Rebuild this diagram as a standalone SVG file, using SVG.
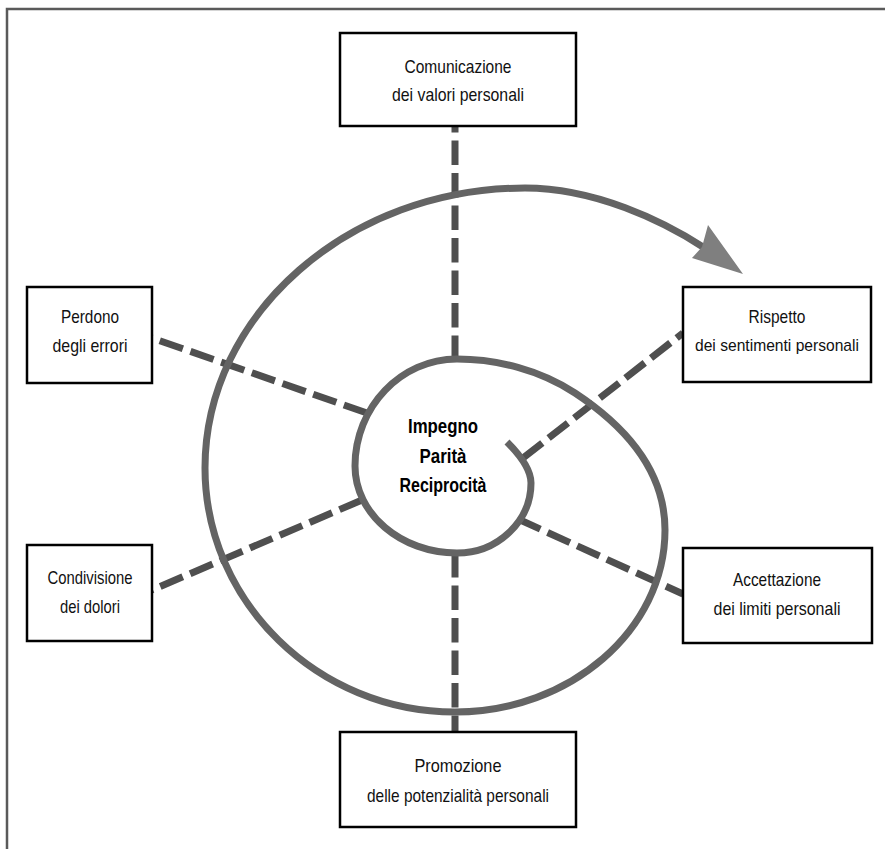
<svg xmlns="http://www.w3.org/2000/svg" width="885" height="849" viewBox="0 0 885 849">
<style>
.box{fill:#fff;stroke:#000;stroke-width:2.5}
.lbl{font-family:"Liberation Sans Narrow","Liberation Sans",Arial,sans-serif;font-size:19px;fill:#111;text-anchor:middle}
.ctr{font-family:"Liberation Sans Narrow","Liberation Sans",Arial,sans-serif;font-size:20px;font-weight:bold;fill:#000;text-anchor:middle}
.dash{stroke:#4f4f4f;stroke-width:7;stroke-dasharray:24.5 8;fill:none}
.spiral{stroke:#646464;stroke-width:7;fill:none}
</style>
<rect width="885" height="849" fill="#fff"/>
<path d="M7,849 V9 H885" fill="none" stroke="#5a5a5a" stroke-width="2.5"/>
<g id="connectors">
<line class="dash" x1="455" y1="360" x2="455" y2="126"/>
<line class="dash" x1="455" y1="553" x2="455" y2="732"/>
<line class="dash" x1="367" y1="413" x2="152" y2="338"/>
<line class="dash" x1="362" y1="500" x2="152" y2="590"/>
<line class="dash" x1="523" y1="458" x2="683" y2="333"/>
<line class="dash" x1="518" y1="519" x2="683" y2="594"/>
<path class="spiral" d="M507,442 C519,454 531,469 531,483 C531,521 498,553 457,553 C401,553 355,514 355,466 C355,407 401,359 457,359 C497,359 540,370 575,393 C625,426 665,470 665,530 C665,630 570,712 455,712 C318,712 205,602 205,468 C205,314 349,188 525,188 C595,188 663,221 703,247"/>
<polygon points="743,274 708,225 702,247 692,258" fill="#7f7f7f"/>
</g>
<g id="center">
<text class="ctr" x="443" y="433" textLength="70" lengthAdjust="spacingAndGlyphs">Impegno</text>
<text class="ctr" x="443" y="463" textLength="47" lengthAdjust="spacingAndGlyphs">Parità</text>
<text class="ctr" x="443" y="492" textLength="87" lengthAdjust="spacingAndGlyphs">Reciprocità</text>
</g>
<g id="n-comunicazione">
<rect class="box" x="340" y="33" width="236" height="93"/>
<text class="lbl" x="458" y="73" textLength="107" lengthAdjust="spacingAndGlyphs">Comunicazione</text>
<text class="lbl" x="458" y="101" textLength="132" lengthAdjust="spacingAndGlyphs">dei valori personali</text>
</g>
<g id="n-perdono">
<rect class="box" x="27" y="287" width="125" height="96"/>
<text class="lbl" x="90" y="323" textLength="58" lengthAdjust="spacingAndGlyphs">Perdono</text>
<text class="lbl" x="90" y="352" textLength="75" lengthAdjust="spacingAndGlyphs">degli errori</text>
</g>
<g id="n-condivisione">
<rect class="box" x="27" y="545" width="125" height="96"/>
<text class="lbl" x="90" y="584" textLength="85" lengthAdjust="spacingAndGlyphs">Condivisione</text>
<text class="lbl" x="90" y="613" textLength="60" lengthAdjust="spacingAndGlyphs">dei dolori</text>
</g>
<g id="n-rispetto">
<rect class="box" x="683" y="287" width="188" height="95"/>
<text class="lbl" x="777" y="323" textLength="57" lengthAdjust="spacingAndGlyphs">Rispetto</text>
<text class="lbl" x="777" y="351" style="font-size:17px" textLength="164" lengthAdjust="spacingAndGlyphs">dei sentimenti personali</text>
</g>
<g id="n-accettazione">
<rect class="box" x="683" y="548" width="189" height="95"/>
<text class="lbl" x="777" y="586" textLength="88" lengthAdjust="spacingAndGlyphs">Accettazione</text>
<text class="lbl" x="777" y="615" textLength="127" lengthAdjust="spacingAndGlyphs">dei limiti personali</text>
</g>
<g id="n-promozione">
<rect class="box" x="340" y="732" width="236" height="95"/>
<text class="lbl" x="458" y="772" textLength="87" lengthAdjust="spacingAndGlyphs">Promozione</text>
<text class="lbl" x="458" y="802" textLength="182" lengthAdjust="spacingAndGlyphs">delle potenzialità personali</text>
</g>
</svg>
